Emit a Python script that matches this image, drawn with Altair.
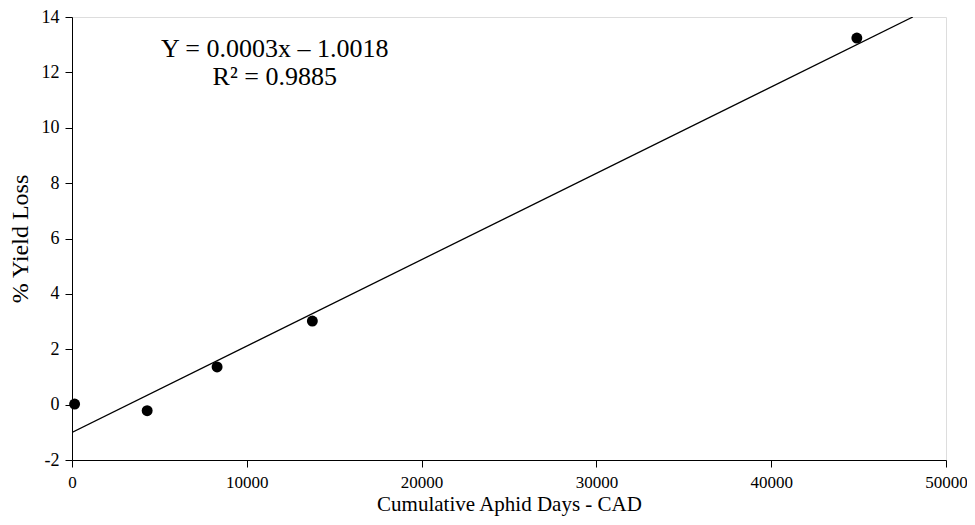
import altair as alt
import pandas as pd

# data
cad = [150, 4300, 8300, 13750, 44900]
yield_loss = [0.02, -0.22, 1.36, 3.02, 13.24]

fit_x = [0, 48100]
fit_y = [-1.0018, 14.0]

eq_lines = ["Y = 0.0003x \u2013 1.0018", "R\u00b2 = 0.9885"]
eq_x = [11600, 11600]
eq_y = [12.85, 11.85]

x_ticks = [0, 10000, 20000, 30000, 40000, 50000]
y_ticks = [-2, 0, 2, 4, 6, 8, 10, 12, 14]

pts = pd.DataFrame({"x": cad, "y": yield_loss})
fit = pd.DataFrame({"x": fit_x, "y": fit_y})
eq = pd.DataFrame({"x": eq_x, "y": eq_y, "t": eq_lines})

FONT = "Liberation Serif"

xscale = alt.Scale(domain=[0, 50000], nice=False, zero=False)
yscale = alt.Scale(domain=[-2, 14], nice=False, zero=False)

xaxis = alt.Axis(values=x_ticks, title="Cumulative Aphid Days - CAD", grid=False,
                 labelExpr="'' + datum.value", labelFlush=False, labelFont=FONT,
                 titleFont=FONT, labelFontSize=17, titleFontSize=21,
                 titleFontWeight="normal", labelColor="black", titleColor="black",
                 domainColor="black", tickColor="black", tickSize=7, labelPadding=7,
                 titlePadding=3)
yaxis = alt.Axis(values=y_ticks, title="% Yield Loss", grid=False,
                 labelExpr="'' + datum.value", labelFlush=False, labelFont=FONT,
                 titleFont=FONT, labelFontSize=18, titleFontSize=24,
                 titleFontWeight="normal", labelColor="black", titleColor="black",
                 domainColor="black", tickColor="black", tickSize=7, labelPadding=6,
                 titlePadding=9)

line = alt.Chart(fit).mark_line(color="black", strokeWidth=1.3, clip=True).encode(
    x=alt.X("x:Q", scale=xscale, axis=xaxis),
    y=alt.Y("y:Q", scale=yscale, axis=yaxis),
)

points = alt.Chart(pts).mark_circle(color="black", opacity=1, size=120).encode(
    x=alt.X("x:Q", scale=xscale),
    y=alt.Y("y:Q", scale=yscale),
)

text = alt.Chart(eq).mark_text(font=FONT, fontSize=26, color="black", align="center",
                               baseline="middle").encode(
    x=alt.X("x:Q", scale=xscale),
    y=alt.Y("y:Q", scale=yscale),
    text="t:N",
)

chart = (line + points + text).properties(
    width=874, height=443,
    autosize=alt.AutoSizeParams(type="none"),
    padding={"left": 64, "top": 9, "right": 21, "bottom": 60},
).configure_view(stroke="black", strokeWidth=1.3).configure(background="white")

chart.save("out.html", embed_options={"renderer": "svg", "actions": False})
